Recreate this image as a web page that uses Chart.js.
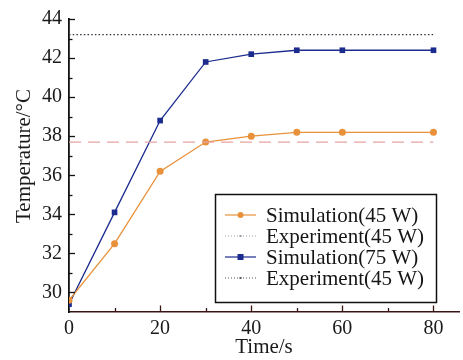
<!DOCTYPE html>
<html>
<head>
<meta charset="utf-8">
<script src="https://cdn.jsdelivr.net/npm/chart.js@4.4.1/dist/chart.umd.min.js"></script>
<style>
  html, body { margin: 0; padding: 0; background: #fff; }
  #wrap { width: 463px; height: 360px; position: relative; }
</style>
</head>
<body>
<div id="wrap"><canvas id="temp-chart"></canvas></div>
<script>
const timePoints = [0, 10, 20, 30, 40, 50, 60, 80];
const sim45      = [29.6, 32.5, 36.2, 37.7, 38.0, 38.2, 38.2, 38.2];
const sim75      = [29.4, 34.1, 38.8, 41.8, 42.2, 42.4, 42.4, 42.4];
const expTime    = [0, 80];
const exp45      = [37.7, 37.7];
const exp75      = [43.2, 43.2];
const xTicks     = [0, 20, 40, 60, 80];
const yTicks     = [30, 32, 34, 36, 38, 40, 42, 44];
const yTitle     = 'Temperature/°C';

const legendItems = [
  { label: 'Simulation(45 W)', color: '#e8913a', dash: [],     marker: 'circle' },
  { label: 'Experiment(45 W)', color: '#9a9aa8', dash: [1, 2], marker: null },
  { label: 'Simulation(75 W)', color: '#1c2b8e', dash: [],     marker: 'rect' },
  { label: 'Experiment(45 W)', color: '#555560', dash: [1, 2], marker: null },
];

const serif = "'Liberation Serif', 'DejaVu Serif', serif";
const pts = (xs, ys) => xs.map((x, i) => ({ x, y: ys[i] }));

// inward tick marks, y title and legend box
const decor = {
  id: 'decor',
  afterDraw(chart) {
    const { ctx, chartArea: a, scales: { x, y } } = chart;
    ctx.save();
    ctx.strokeStyle = '#111';
    ctx.lineWidth = 1.3;
    for (let v = 30; v <= 44; v++) {
      const py = Math.round(y.getPixelForValue(v)) + 0.5;
      const len = v % 2 === 0 ? 6 : 3.5;
      ctx.beginPath(); ctx.moveTo(a.left, py); ctx.lineTo(a.left + len, py); ctx.stroke();
    }
    ctx.strokeStyle = '#3a1414';
    for (let v = 10; v <= 80; v += 10) {
      const px = Math.round(x.getPixelForValue(v)) + 0.5;
      const len = v % 20 === 0 ? 6.5 : 4;
      ctx.beginPath(); ctx.moveTo(px, a.bottom); ctx.lineTo(px, a.bottom - len); ctx.stroke();
    }

    // y axis title
    ctx.save();
    ctx.translate(24, 156);
    ctx.rotate(-Math.PI / 2);
    ctx.font = `21px ${serif}`;
    ctx.fillStyle = '#1a1a1a';
    ctx.textAlign = 'center';
    ctx.textBaseline = 'middle';
    ctx.fillText(yTitle, 0, 0);
    ctx.restore();

    // legend
    const bx = 215, by = 194, bw = 221, bh = 108;
    ctx.fillStyle = '#fff';
    ctx.fillRect(bx, by, bw, bh);
    ctx.strokeStyle = '#111';
    ctx.lineWidth = 1.5;
    ctx.strokeRect(bx + 0.5, by + 0.5, bw, bh);
    ctx.font = `21px ${serif}`;
    ctx.textBaseline = 'middle';
    legendItems.forEach((it, i) => {
      const cy = by + 21 + i * 21;
      ctx.strokeStyle = it.color;
      ctx.lineWidth = 1.2;
      ctx.setLineDash(it.dash);
      ctx.beginPath(); ctx.moveTo(225, cy); ctx.lineTo(256, cy); ctx.stroke();
      ctx.setLineDash([]);
      ctx.fillStyle = it.color;
      if (it.marker === 'circle') {
        ctx.beginPath(); ctx.arc(240.5, cy, 3, 0, Math.PI * 2); ctx.fill();
      } else if (it.marker === 'rect') {
        ctx.fillRect(237.5, cy - 3, 6, 6);
      } else {
        ctx.fillRect(239.5, cy - 1, 2, 2);
      }
      ctx.fillStyle = '#151515';
      ctx.fillText(it.label, 266, cy + 1);
    });
    ctx.restore();
  },
};

new Chart(document.getElementById('temp-chart'), {
  type: 'line',
  data: {
    datasets: [
      {
        data: pts(expTime, exp75),
        borderColor: '#333340', borderWidth: 1.3, borderDash: [1.5, 2.2],
        pointRadius: 0,
      },
      {
        data: pts(expTime, exp45),
        borderColor: '#e8a3a3', borderWidth: 1.3, borderDash: [12, 7],
        pointRadius: 0,
      },
      {
        data: pts(timePoints, sim45),
        borderColor: '#e8913a', backgroundColor: '#e8913a',
        borderWidth: 1.3, pointStyle: 'circle', pointRadius: 3.5,
        pointBorderWidth: 0,
      },
      {
        data: pts(timePoints, sim75),
        borderColor: '#1c2b8e', backgroundColor: '#1c2b8e',
        borderWidth: 1.3, pointStyle: 'rect', pointRadius: 4,
        pointBorderWidth: 0,
      },
    ],
  },
  options: {
    responsive: true,
    maintainAspectRatio: false,
    animation: false,
    layout: { padding: { top: 19, right: 0, left: 0, bottom: 0 } },
    plugins: { legend: { display: false }, tooltip: { enabled: false } },
    scales: {
      x: {
        type: 'linear', min: 0, max: 85.6,
        afterBuildTicks: s => { s.ticks = xTicks.map(v => ({ value: v })); },
        afterFit: s => { s.height = 48; },
        grid: { display: false, drawTicks: false },
        border: { display: true, color: '#3a1414', width: 1.6 },
        ticks: { color: '#1a1a1a', padding: 5, font: { family: serif, size: 20 }, maxRotation: 0 },
        title: { display: true, text: 'Time/s', color: '#1a1a1a', font: { family: serif, size: 21 }, padding: { top: 0, bottom: 0 } },
      },
      y: {
        min: 29, max: 44,
        afterBuildTicks: s => { s.ticks = yTicks.map(v => ({ value: v })); },
        afterFit: s => { s.width = 69; },
        grid: { display: false, drawTicks: false },
        border: { display: true, color: '#111', width: 1.8 },
        ticks: { color: '#1a1a1a', padding: 7, font: { family: serif, size: 20 } },
      },
    },
  },
  plugins: [decor],
});
</script>
</body>
</html>
